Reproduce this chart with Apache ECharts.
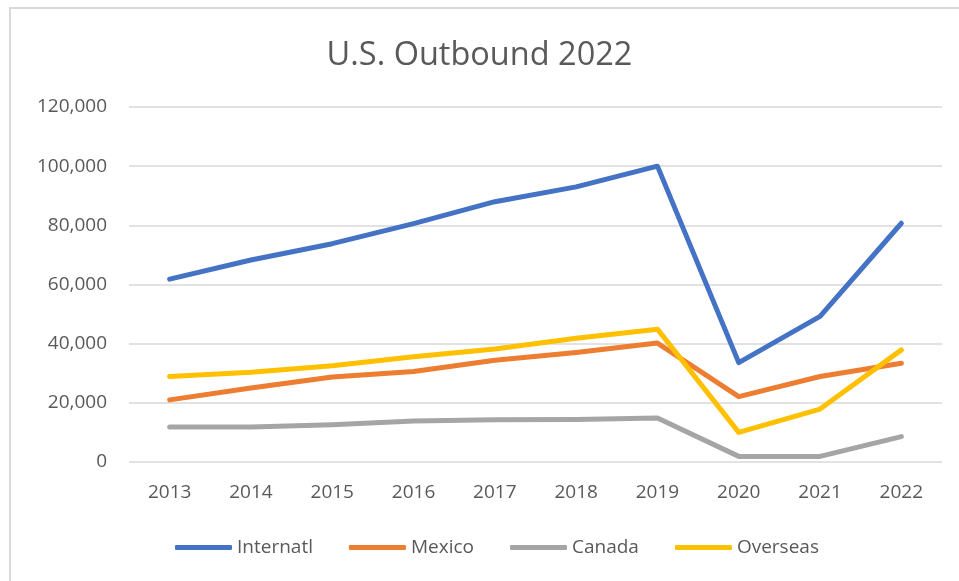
<!DOCTYPE html>
<html>
<head>
<meta charset="utf-8">
<script src="https://cdn.jsdelivr.net/npm/echarts@6/dist/echarts.min.js"></script>
<style>
  html, body { margin: 0; padding: 0; background: #fff; }
  #chart { width: 959px; height: 581px; }
</style>
</head>
<body>
<div id="chart"></div>
<script>
const years = ['2013', '2014', '2015', '2016', '2017', '2018', '2019', '2020', '2021', '2022'];
const internatl = [61800, 68300, 73800, 80600, 88000, 93000, 100000, 33600, 49200, 80700];
const mexico = [21000, 25000, 28700, 30600, 34400, 37000, 40200, 22100, 28900, 33400];
const canada = [11800, 11800, 12600, 13900, 14300, 14400, 14900, 1900, 1900, 8600];
const overseas = [28900, 30300, 32500, 35600, 38200, 41800, 44900, 10000, 17900, 37900];

const font = '"Open Sans", "DejaVu Sans", sans-serif';

const mychart = echarts.init(document.getElementById('chart'));

function line(name, data, color) {
    return {
        name: name,
        type: 'line',
        data: data,
        symbol: 'none',
        lineStyle: { width: 5, color: color, cap: 'round', join: 'round' },
        itemStyle: { color: color }
    };
}

mychart.setOption({
    animation: false,
    title: {
        text: 'U.S. Outbound 2022',
        left: 'center',
        top: 34,
        textStyle: { fontFamily: font, fontSize: 32.5, fontWeight: 'normal', color: '#595959' }
    },
    graphic: [{
        type: 'polyline',
        shape: { points: [[10, 590], [10, 8], [970, 8]] },
        style: { stroke: '#d9d9d9', lineWidth: 2, fill: null }
    }],
    legend: {
        bottom: 19,
        left: 170,
        itemWidth: 57,
        itemHeight: 5,
        itemGap: 36,
        icon: 'roundRect',
        textStyle: { fontFamily: font, fontSize: 19, color: '#595959' },
        data: ['Internatl', 'Mexico', 'Canada', 'Overseas']
    },
    grid: { left: 129, right: 17, top: 107, bottom: 119 },
    xAxis: {
        type: 'category',
        data: years,
        axisLine: { show: false },
        axisTick: { show: false },
        axisLabel: { fontFamily: font, fontSize: 19, color: '#595959', margin: 21 }
    },
    yAxis: {
        type: 'value',
        min: 0,
        max: 120000,
        interval: 20000,
        axisLabel: {
            fontFamily: font, fontSize: 19, color: '#595959', margin: 22,
            formatter: v => v.toLocaleString('en-US')
        },
        splitLine: { lineStyle: { color: '#d9d9d9', width: 1.5 } }
    },
    series: [
        line('Internatl', internatl, '#4472C4'),
        line('Mexico', mexico, '#ED7D31'),
        line('Canada', canada, '#A5A5A5'),
        line('Overseas', overseas, '#FFC000')
    ]
});
</script>
</body>
</html>
